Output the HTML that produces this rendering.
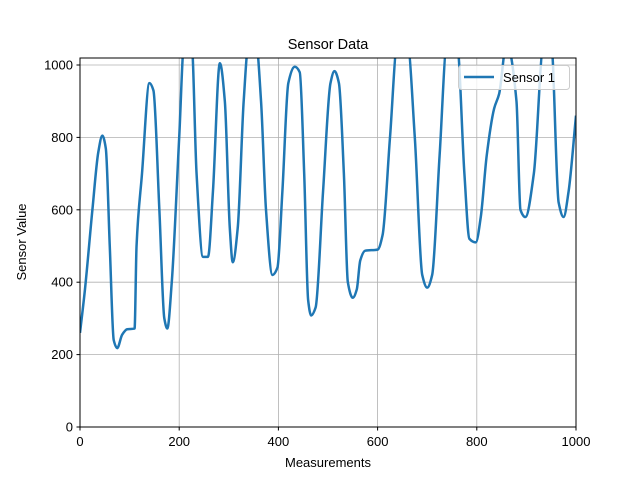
<!DOCTYPE html>
<html><head><meta charset="utf-8"><style>
body{margin:0;background:#fff;}
svg{display:block;font-family:"Liberation Sans","DejaVu Sans",sans-serif;}
</style></head><body>
<svg id="chart" width="640" height="480">
<defs><clipPath id="clip"><rect x="80" y="58" width="496" height="369"/></clipPath></defs>
<rect x="0" y="0" width="640" height="480" fill="#fff"/>
<g id="grid"></g>
<path id="line" clip-path="url(#clip)" fill="none" stroke="#1f77b4" stroke-width="2.5" stroke-linejoin="round"/>
<rect x="80" y="58" width="496" height="369" fill="none" stroke="#000" stroke-width="1"/>
<g id="ticks"></g>
<text x="328" y="49" font-size="14.5" text-anchor="middle">Sensor Data</text>
<text x="328" y="467" font-size="13" text-anchor="middle">Measurements</text>
<text x="26" y="242" font-size="13" text-anchor="middle" transform="rotate(-90 26 242)">Sensor Value</text>
<g>
<rect x="458.5" y="65.5" width="111" height="24" rx="3" fill="#fff" fill-opacity="0.8" stroke="#ccc"/>
<line x1="464" y1="77" x2="494" y2="77" stroke="#1f77b4" stroke-width="2.5"/>
<text x="503" y="82" font-size="13">Sensor 1</text>
</g>
</svg>
<script>
const xs=[0,10,25,37,45,52,60,68,75,85,95,110,114,125,140,148,160,170,176,185,200,210,225,235,248,258,268,282,292,302,308,318,330,340,355,365,375,388,398,408,420,433,443,452,460,466,475,490,505,513,522,532,540,550,558,565,575,600,610,625,640,660,675,690,700,710,725,740,760,775,785,798,808,820,835,845,860,880,888,898,915,935,950,965,975,985,1000];
const ys=[260,380,600,760,805,770,500,240,218,255,270,272,500,700,950,930,600,300,272,400,800,1060,1060,700,470,470,650,1005,900,550,455,550,900,1060,1060,900,600,420,440,650,950,995,980,700,350,308,330,650,950,983,950,700,400,357,380,460,487,490,530,800,1060,1060,800,420,385,420,750,1060,1060,700,520,510,580,750,880,920,1060,900,600,580,700,1060,1060,620,580,650,860];
const xTicks=[0,200,400,600,800,1000];
const yTicks=[0,200,400,600,800,1000];
const X=v=>80+v*0.496, Y=v=>427-v*0.362;
const ns="http://www.w3.org/2000/svg";
const grid=document.getElementById('grid'), ticks=document.getElementById('ticks');
function mk(tag,attrs,parent){const e=document.createElementNS(ns,tag);for(const k in attrs)e.setAttribute(k,attrs[k]);parent.appendChild(e);return e;}
xTicks.forEach(t=>{
 const g=mk('line',{x1:X(t),x2:X(t),y1:58,y2:427,stroke:'#b0b0b0','stroke-width':0.8},grid);
 
 
 const tk=mk('line',{x1:X(t),x2:X(t),y1:427,y2:430.5,stroke:'#000'},ticks);
 
 
 const lb=mk('text',{x:X(t),y:446,'font-size':13,'text-anchor':'middle'},ticks);lb.textContent=t;
 
 
});
yTicks.forEach(t=>{
 const g=mk('line',{x1:80,x2:576,y1:Y(t),y2:Y(t),stroke:'#b0b0b0','stroke-width':0.8},grid);
 
 
 const tk=mk('line',{x1:76.5,x2:80,y1:Y(t),y2:Y(t),stroke:'#000'},ticks);
 
 
 const lb=mk('text',{x:73,y:Y(t)+4.5,'font-size':13,'text-anchor':'end'},ticks);lb.textContent=t;
 
 
});
// monotone cubic interpolation (Fritsch-Carlson)
const px=xs.map(X), py=ys.map(Y), n=px.length;
const dx=[],sl=[];
for(let i=0;i<n-1;i++){dx.push(px[i+1]-px[i]);sl.push((py[i+1]-py[i])/dx[i]);}
const m=new Array(n);
m[0]=sl[0];m[n-1]=sl[n-2];
for(let i=1;i<n-1;i++){
 if(sl[i-1]*sl[i]<=0)m[i]=0;
 else{const w1=2*dx[i]+dx[i-1],w2=dx[i]+2*dx[i-1];m[i]=(w1+w2)/(w1/sl[i-1]+w2/sl[i]);}
}
let d='M'+px[0]+','+py[0];
for(let i=0;i<n-1;i++){
 const h=dx[i]/3;
 d+=` C${px[i]+h},${py[i]+m[i]*h} ${px[i+1]-h},${py[i+1]-m[i+1]*h} ${px[i+1]},${py[i+1]}`;
}
document.getElementById('line').setAttribute('d',d);
</script>
</body></html>
